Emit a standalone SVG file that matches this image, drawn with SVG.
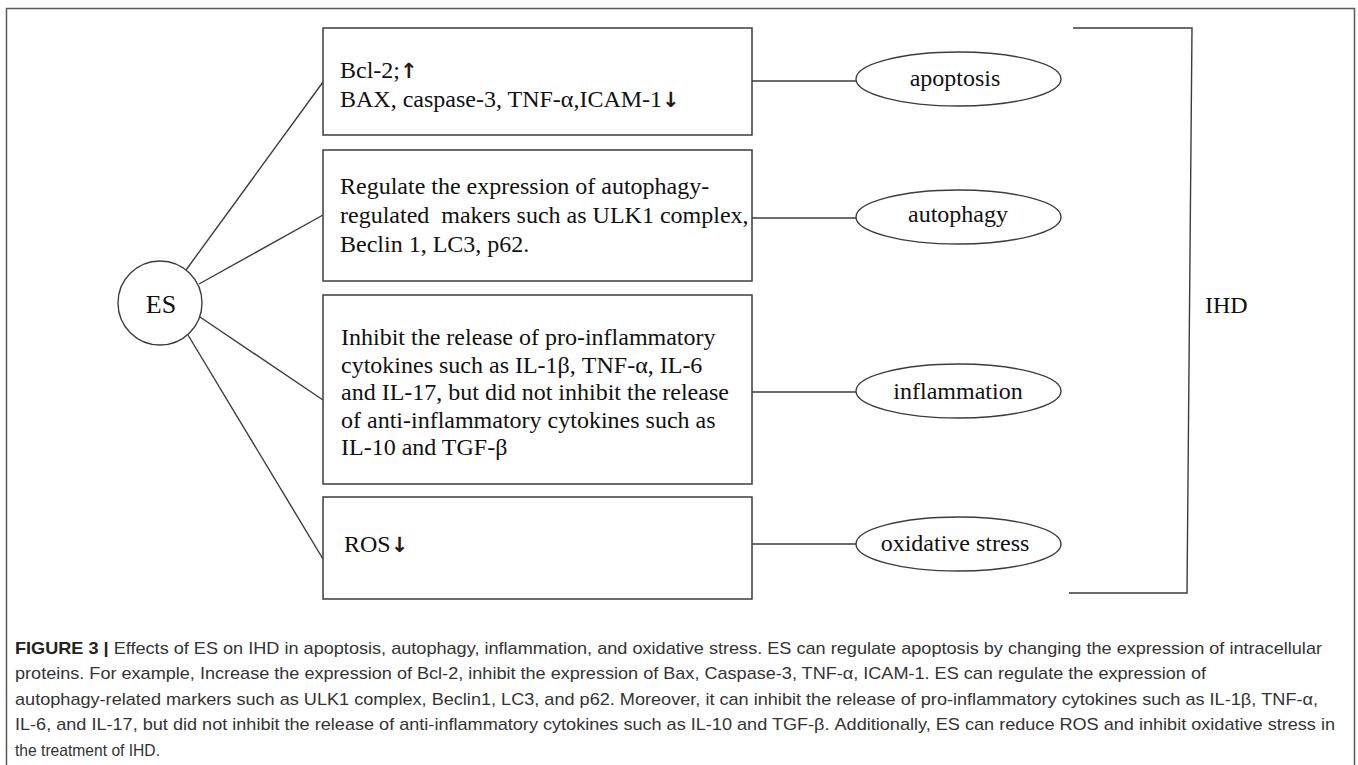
<svg xmlns="http://www.w3.org/2000/svg" width="1358" height="765" viewBox="0 0 1358 765">
<style>
.frame{fill:none;stroke:#5a5a5a;stroke-width:1.5}
.box{fill:#fff;stroke:#3c3c3c;stroke-width:1.5}
.ell{fill:#fff;stroke:#3c3c3c;stroke-width:1.4}
.ln{fill:none;stroke:#3c3c3c;stroke-width:1.4}
.t{font-family:"Liberation Serif","Times New Roman",serif;font-size:24px;fill:#111}
.c{text-anchor:middle}
.arr{font-family:"DejaVu Sans",sans-serif;font-weight:bold;fill:#2a1812;font-size:21px}
.cap{font-family:"Liberation Sans",Arial,sans-serif;font-size:17px;fill:#333}
.capb{font-weight:bold;fill:#222}
</style>
<rect width="1358" height="765" fill="#fff"/>
<path class="frame" d="M6.5,770 V8.5 H1354.5 V770"/>

<g id="connectors">
<line class="ln" x1="186" y1="270" x2="323" y2="82"/>
<line class="ln" x1="199" y1="284" x2="323" y2="215"/>
<line class="ln" x1="200" y1="317" x2="323" y2="400"/>
<line class="ln" x1="188" y1="335" x2="323" y2="559"/>
<line class="ln" x1="752" y1="81" x2="856" y2="81"/>
<line class="ln" x1="752" y1="218" x2="856" y2="218"/>
<line class="ln" x1="752" y1="392" x2="856" y2="392"/>
<line class="ln" x1="752" y1="544" x2="856" y2="544"/>
<path class="ln" d="M1073,28 H1192 L1187,593 H1069"/>
</g>

<g id="es">
<circle class="ell" cx="160" cy="303" r="42"/>
<text class="t c" x="161" y="313" style="font-size:26px">ES</text>
</g>

<g id="box-apoptosis">
<rect class="box" x="323" y="28" width="429" height="107"/>
<text class="t" x="340" y="78">Bcl-2;<tspan class="arr">↑</tspan></text>
<text class="t" x="340" y="107">BAX, caspase-3, TNF-α,ICAM-1<tspan class="arr">↓</tspan></text>
</g>

<g id="box-autophagy">
<rect class="box" x="323" y="150" width="429" height="131"/>
<text class="t" x="340" y="194">Regulate the expression of autophagy-</text>
<text class="t" x="340" y="223" xml:space="preserve">regulated  makers such as ULK1 complex,</text>
<text class="t" x="340" y="252">Beclin 1, LC3, p62.</text>
</g>

<g id="box-inflammation">
<rect class="box" x="323" y="295" width="429" height="189"/>
<text class="t" x="341" y="345">Inhibit the release of pro-inflammatory</text>
<text class="t" x="341" y="372.5">cytokines such as IL-1β, TNF-α, IL-6</text>
<text class="t" x="341" y="400">and IL-17, but did not inhibit the release</text>
<text class="t" x="341" y="427.5">of anti-inflammatory cytokines such as</text>
<text class="t" x="341" y="455">IL-10 and TGF-β</text>
</g>

<g id="box-oxidative">
<rect class="box" x="323" y="497" width="429" height="102"/>
<text class="t" x="344" y="552">ROS<tspan class="arr">↓</tspan></text>
</g>

<g id="ell-apoptosis">
<ellipse class="ell" cx="958.5" cy="79" rx="102.5" ry="27"/>
<text class="t c" x="955" y="86">apoptosis</text>
</g>
<g id="ell-autophagy">
<ellipse class="ell" cx="958.5" cy="217" rx="102.5" ry="27"/>
<text class="t c" x="958" y="222">autophagy</text>
</g>
<g id="ell-inflammation">
<ellipse class="ell" cx="958.5" cy="391" rx="102.5" ry="27"/>
<text class="t c" x="958" y="399">inflammation</text>
</g>
<g id="ell-oxidative">
<ellipse class="ell" cx="958.5" cy="544" rx="102.5" ry="27"/>
<text class="t c" x="955" y="551">oxidative stress</text>
</g>

<g id="ihd">
<text class="t" x="1205" y="313">IHD</text>
</g>

<g id="caption">
<text class="cap" x="15" y="654" textLength="1307" lengthAdjust="spacingAndGlyphs"><tspan class="capb">FIGURE 3 |</tspan> Effects of ES on IHD in apoptosis, autophagy, inflammation, and oxidative stress. ES can regulate apoptosis by changing the expression of intracellular</text>
<text class="cap" x="15" y="679" textLength="1191" lengthAdjust="spacingAndGlyphs">proteins. For example, Increase the expression of Bcl-2, inhibit the expression of Bax, Caspase-3, TNF-α, ICAM-1. ES can regulate the expression of</text>
<text class="cap" x="15" y="705" textLength="1303" lengthAdjust="spacingAndGlyphs">autophagy-related markers such as ULK1 complex, Beclin1, LC3, and p62. Moreover, it can inhibit the release of pro-inflammatory cytokines such as IL-1β, TNF-α,</text>
<text class="cap" x="15" y="730" textLength="1320" lengthAdjust="spacingAndGlyphs">IL-6, and IL-17, but did not inhibit the release of anti-inflammatory cytokines such as IL-10 and TGF-β. Additionally, ES can reduce ROS and inhibit oxidative stress in</text>
<text class="cap" x="15" y="756" textLength="145" lengthAdjust="spacingAndGlyphs">the treatment of IHD.</text>
</g>
</svg>
